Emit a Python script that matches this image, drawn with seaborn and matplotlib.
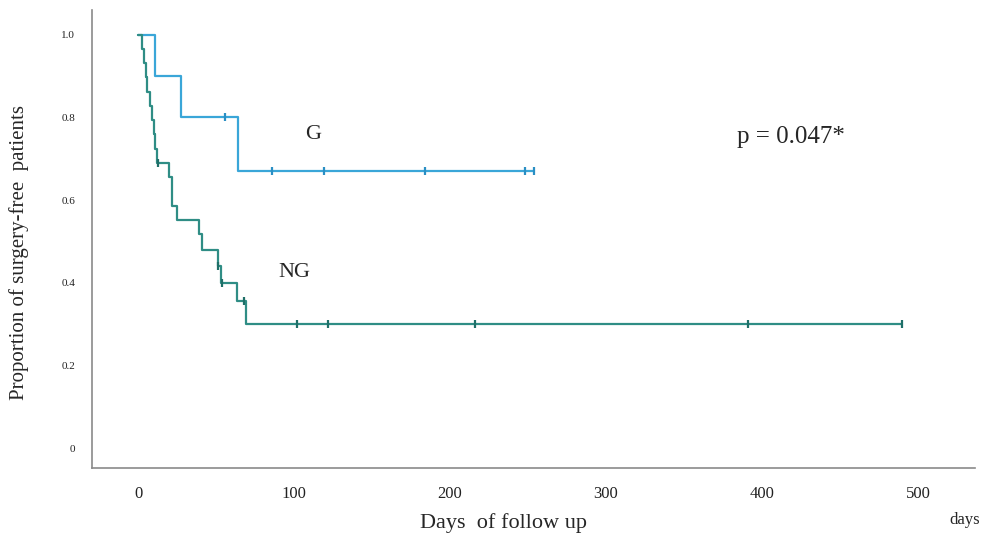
import matplotlib
matplotlib.use("Agg")
import matplotlib.pyplot as plt
import seaborn as sns
import pandas as pd

# ---- data ----
g_times = [0, 11, 27.5, 64, 254]
g_surv = [1.0, 0.90, 0.80, 0.67, 0.67]
g_cens_t = [56, 86, 119, 184, 248, 254]
g_cens_s = [0.80, 0.67, 0.67, 0.67, 0.67, 0.67]

ng_times = [0, 2.5, 4, 5, 6, 7.5, 9, 10, 11, 12, 20, 22, 25, 39, 41, 51, 53, 63.5, 69, 490]
ng_surv = [1.0, 0.966, 0.931, 0.897, 0.862, 0.828, 0.793, 0.759, 0.724, 0.69,
           0.655, 0.586, 0.552, 0.517, 0.48, 0.44, 0.40, 0.356, 0.30, 0.30]
ng_cens_t = [12.5, 51, 54, 68, 102, 122, 216, 391, 490]
ng_cens_s = [0.69, 0.44, 0.40, 0.356, 0.30, 0.30, 0.30, 0.30, 0.30]

x_ticks = [0, 100, 200, 300, 400, 500]
y_ticks = [0, 0.2, 0.4, 0.6, 0.8, 1.0]
y_tick_labels = ["0", "0.2", "0.4", "0.6", "0.8", "1.0"]

c_g = "#3aa6d8"
c_ng = "#2f8d85"

sns.set_style("white")
plt.rcParams["font.family"] = ["Liberation Serif", "DejaVu Serif"]

fig = plt.figure(figsize=(9.84, 5.34), dpi=100)
ax = fig.add_axes([92 / 984, 66 / 534, (975 - 92) / 984, (524 - 66) / 534])

df_g = pd.DataFrame({"t": g_times, "s": g_surv})
df_ng = pd.DataFrame({"t": ng_times, "s": ng_surv})
sns.lineplot(data=df_g, x="t", y="s", drawstyle="steps-post", estimator=None,
             sort=False, color=c_g, linewidth=1.6, ax=ax)
sns.lineplot(data=df_ng, x="t", y="s", drawstyle="steps-post", estimator=None,
             sort=False, color=c_ng, linewidth=1.6, ax=ax)

sns.scatterplot(x=g_cens_t, y=g_cens_s, marker="|", s=40, linewidth=1.6,
                color="#2a8fc4", ax=ax, zorder=5)
sns.scatterplot(x=ng_cens_t, y=ng_cens_s, marker="|", s=40, linewidth=1.6,
                color="#1f6f68", ax=ax, zorder=5)

ax.set_xlim(-29.5, 536.5)
ax.set_ylim(-0.048, 1.06)
ax.set_xticks(x_ticks)
ax.set_xticklabels([str(v) for v in x_ticks], fontsize=12)
ax.set_yticks(y_ticks)
ax.set_yticklabels(y_tick_labels, fontsize=8)
ax.tick_params(axis="x", length=0, pad=13, colors="#222222")
ax.tick_params(axis="y", length=0, pad=12, colors="#222222")

for side in ["top", "right"]:
    ax.spines[side].set_visible(False)
for side in ["left", "bottom"]:
    ax.spines[side].set_color("#8a8a8a")
    ax.spines[side].set_linewidth(1.2)

ax.set_xlabel("Days  of follow up", fontsize=16)
ax.xaxis.set_label_coords((503 - 92) / 883, -(523 - 468) / 458)
ax.xaxis.label.set_va("center")
ax.set_ylabel("Proportion of surgery-free  patients", fontsize=15)
ax.yaxis.set_label_coords(-(92 - 19) / 883, (468 - 252) / 458)
ax.yaxis.label.set_va("center")

ax.text(112, 0.76, "G", fontsize=16, ha="center", va="center")
ax.text(100.5, 0.426, "NG", fontsize=16, ha="center", va="center")
ax.text(418.5, 0.753, "p = 0.047*", fontsize=18, ha="center", va="center")
fig.text(965 / 984, 1 - 520 / 534, "days", fontsize=12, ha="center", va="center")

fig.savefig("out.png", dpi=100)
